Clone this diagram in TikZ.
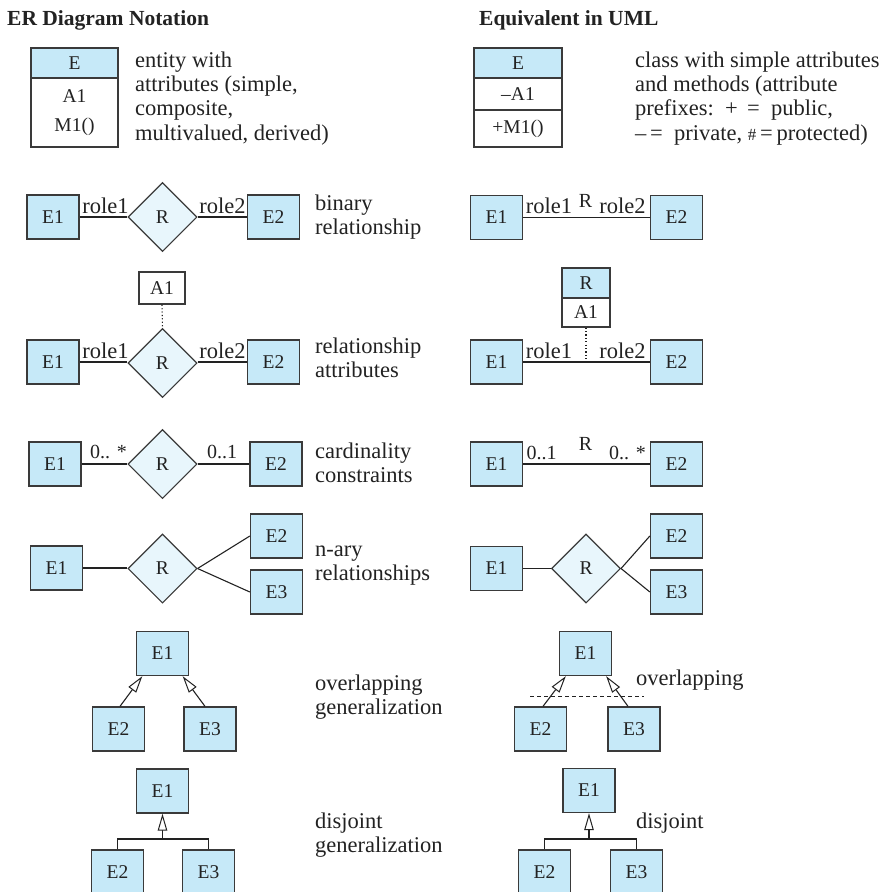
\documentclass[tikz,border=0pt]{standalone}
\usepackage{fontspec}
\setmainfont{Liberation Serif}
\usetikzlibrary{shapes.geometric,arrows.meta,calc}
\definecolor{entfill}{HTML}{C6E9F8}
\definecolor{relfill}{HTML}{E8F6FC}
\definecolor{edge}{HTML}{3A3A3A}
\definecolor{ink}{HTML}{222222}
\begin{document}
\begin{tikzpicture}[x=1pt,y=-1pt,
  every node/.style={font=\fontsize{22.5}{24.3}\selectfont, text=ink},
  boxfont/.style={font=\fontsize{19.5}{24}\selectfont},
  ent/.style={boxfont, draw=edge, line width=1.3pt, fill=entfill, minimum width=52pt, minimum height=44pt, inner sep=0pt},
  rel/.style={boxfont, diamond, aspect=1, draw=edge, line width=1.1pt, fill=relfill, minimum width=69pt, minimum height=69pt, inner sep=0pt},
  plainbox/.style={boxfont, draw=edge, line width=1.3pt, fill=white, inner sep=0pt},
  hdrbox/.style={boxfont, draw=edge, line width=1.3pt, fill=entfill, inner sep=0pt},
  conn/.style={draw=ink, line width=1.1pt},
  dotline/.style={draw=ink, line width=1.1pt, dash pattern=on 1.2pt off 2.2pt},
  dashline/.style={draw=ink, line width=1pt, dash pattern=on 4pt off 3pt},
  lbl/.style={anchor=base, inner sep=0pt},
  clbl/.style={anchor=base, inner sep=0pt, font=\fontsize{20}{24}\selectfont},
  desc/.style={anchor=north west, align=left, inner sep=0pt},
  gen/.style={conn, -{Triangle[fill=white, length=17pt, width=9.5pt, line width=1pt]}},
  title/.style={anchor=base west, inner sep=0pt, font=\fontsize{21.5}{24}\selectfont\bfseries},
]
\useasboundingbox (0,0) rectangle (888,892);

% titles
\node[title] (t1) at (7,25) {ER Diagram Notation};
\node[title] (t2) at (479,25) {Equivalent in UML};

% ---- entity with attributes
\node[hdrbox, minimum width=87pt, minimum height=30pt] (erEh) at (74.5,63) {E};
\node[plainbox, minimum width=87pt, minimum height=69pt, align=center, font=\fontsize{19.5}{29}\selectfont] (erEb) at (74.5,112.5) {A1\\M1()};
\node[desc] (d1) at (135,50) {\strut entity with\\attributes (simple,\\composite,\\multivalued, derived)};

\node[hdrbox, minimum width=88pt, minimum height=30pt] (umEh) at (518,63) {E};
\node[plainbox, minimum width=88pt, minimum height=32pt] (umEa) at (518,94) {--A1};
\node[plainbox, minimum width=88pt, minimum height=37pt] (umEm) at (518,128.5) {+M1()};
\node[desc] (d2) at (635,50) {\strut class with simple attributes\\and methods (attribute\\prefixes:\ \ +\ \,=\ \ public,\\--\,=\ \ private, {\fontsize{17}{20}\selectfont\#}\,=\,protected)};

% ---- binary relationship
\node[ent] (b1) at (53,217) {E1};
\node[rel] (bR) at (162.5,217) {R};
\node[ent] (b2) at (273.5,217) {E2};
\draw[conn] (b1) -- (bR);
\draw[conn] (bR) -- (b2);
\node[lbl] (b1l) at (105.5,213) {role1};
\node[lbl] (b2l) at (222.5,213) {role2};
\node[desc] (d3) at (315,193) {\strut binary\\relationship};

\node[ent] (ub1) at (496.5,217.5) {E1};
\node[ent] (ub2) at (676.5,217.5) {E2};
\draw[conn] (ub1) -- (ub2);
\node[lbl] (ub1l) at (549,213) {role1};
\node[clbl] (ubR) at (585.5,207) {R};
\node[lbl] (ub2l) at (622.5,213) {role2};

% ---- relationship attributes
\node[ent] (a1) at (53,362) {E1};
\node[rel] (aR) at (162.5,363) {R};
\node[ent] (a2) at (273.5,362) {E2};
\node[plainbox, minimum width=46pt, minimum height=32pt] (aA) at (162,288) {A1};
\draw[conn] (a1) -- (a1 -| aR.west);
\draw[conn] (aR.east |- a2) -- (a2);
\draw[dotline] (aA.south) -- (aR.north);
\node[lbl] (a1l) at (105.5,358) {role1};
\node[lbl] (a2l) at (222.5,358) {role2};
\node[desc] (d4) at (315,336) {\strut relationship\\attributes};

\node[ent] (ua1) at (496.5,362) {E1};
\node[ent] (ua2) at (676.5,362) {E2};
\node[hdrbox, minimum width=48pt, minimum height=30pt] (uRh) at (586,283) {R};
\node[plainbox, minimum width=48pt, minimum height=29pt] (uRa) at (586,312.5) {A1};
\draw[conn] (ua1) -- (ua2);
\coordinate (uaj) at (uRa.south |- ua1);
\draw[dotline] (uRa.south) -- (uaj);
\node[lbl] (ua1l) at (549,358) {role1};
\node[lbl] (ua2l) at (622.5,358) {role2};

% ---- cardinality constraints
\node[ent] (c1) at (55,464) {E1};
\node[rel] (cR) at (162.5,464) {R};
\node[ent] (c2) at (276,464) {E2};
\draw[conn] (c1) -- (cR);
\draw[conn] (cR) -- (c2);
\node[clbl] (c1l) at (108.5,458) {0.. *};
\node[clbl] (c2l) at (222,458) {0..1};
\node[desc] (d5) at (315,441) {\strut cardinality\\constraints};

\node[ent] (uc1) at (496.5,464) {E1};
\node[ent] (uc2) at (676.5,464) {E2};
\draw[conn] (uc1) -- (uc2);
\node[clbl] (uc1l) at (541.5,459) {0..1};
\node[clbl] (ucR) at (585.5,450) {R};
\node[clbl] (uc2l) at (627.5,459) {0.. *};

% ---- n-ary relationships
\node[ent] (n1) at (56.5,568) {E1};
\node[rel] (nR) at (162.5,568.5) {R};
\node[ent] (n2) at (276.5,536) {E2};
\node[ent] (n3) at (276.5,592) {E3};
\draw[conn] (n1) -- (n1 -| nR.west);
\draw[conn] (nR.east) -- (n2.west);
\draw[conn] (nR.east) -- (n3.west);
\node[desc] (d6) at (315,539) {\strut n-ary\\relationships};

\node[ent] (un1) at (496.5,568.5) {E1};
\node[rel] (unR) at (586,568.5) {R};
\node[ent] (un2) at (676.5,536) {E2};
\node[ent] (un3) at (676.5,592) {E3};
\draw[conn] (un1) -- (unR);
\draw[conn] (unR.east) -- (un2.west);
\draw[conn] (unR.east) -- (un3.west);

% ---- overlapping generalization
\node[ent] (o1) at (162.5,653.5) {E1};
\node[ent] (o2) at (118.5,729) {E2};
\node[ent] (o3) at (210,729) {E3};
\draw[gen] ([xshift=1.5pt]o2.north) -- ([xshift=6.5pt]o1.south west);
\draw[gen] ([xshift=-5pt]o3.north) -- ([xshift=-6.5pt]o1.south east);
\node[desc] (d7) at (315,673) {\strut overlapping\\generalization};

\node[ent] (uo1) at (585.5,653.5) {E1};
\node[ent] (uo2) at (540.5,729) {E2};
\node[ent] (uo3) at (634,729) {E3};
\draw[gen] ([xshift=2.5pt]uo2.north) -- ([xshift=7pt]uo1.south west);
\draw[gen] ([xshift=-6pt]uo3.north) -- ([xshift=-6pt]uo1.south east);
\coordinate (ovl) at (530,696);
\coordinate (ovr) at (644,696);
\draw[dashline] (ovl) -- (ovr);
\node[anchor=base west, inner sep=0pt] (d9) at (636,685) {overlapping};

% ---- disjoint generalization
\node[ent] (j1) at (162.5,791) {E1};
\node[ent] (j2) at (117.5,872) {E2};
\node[ent] (j3) at (208.5,872) {E3};
\coordinate (jj) at (162.5,839);
\draw[conn] (j2.north) |- (jj) -| (j3.north);
\draw[gen] (jj) -- (j1.south);
\node[desc] (d8) at (315,811) {\strut disjoint\\generalization};

\node[ent] (uj1) at (589,790.5) {E1};
\node[ent] (uj2) at (544.5,872) {E2};
\node[ent] (uj3) at (636.5,872) {E3};
\coordinate (ujj) at (589,839);
\draw[conn] (uj2.north) |- (ujj) -| (uj3.north);
\draw[gen] (ujj) -- (uj1.south);
\node[anchor=base west, inner sep=0pt] (d10) at (636,828) {disjoint};
\end{tikzpicture}
\end{document}
